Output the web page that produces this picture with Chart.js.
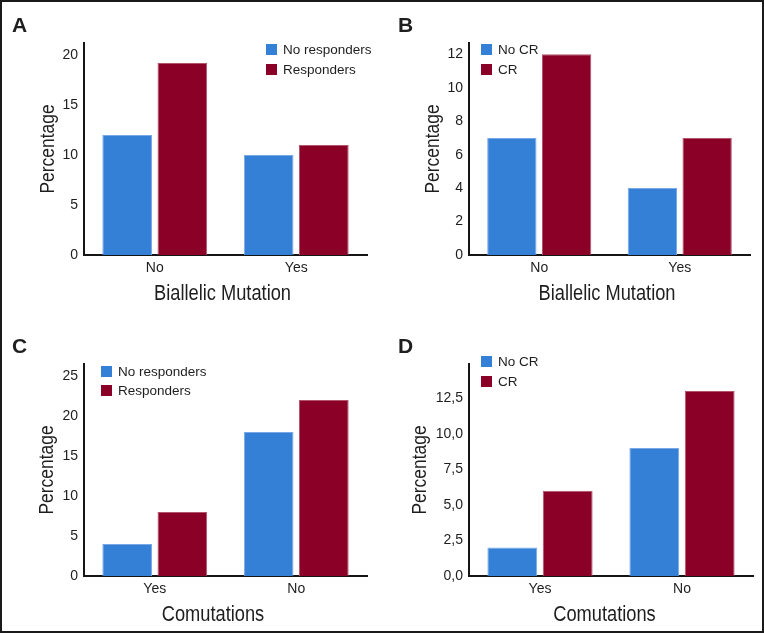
<!DOCTYPE html>
<html>
<head>
<meta charset="utf-8">
<script src="https://cdn.jsdelivr.net/npm/chart.js@4.4.1/dist/chart.umd.min.js"></script>
<style>
  html, body { margin: 0; padding: 0; background: #fff; }
  #page { position: relative; width: 764px; height: 633px; overflow: hidden; background: #fff; }
  #page canvas { position: absolute; }
  #frame { position: absolute; left: 0; top: 0; width: 764px; height: 633px; box-sizing: border-box;
           border: 2px solid #1a1a1a; pointer-events: none; }
</style>
</head>
<body>
<div id="page">
  <canvas id="chartA" width="382" height="316" style="left:0;top:0"></canvas>
  <canvas id="chartB" width="382" height="316" style="left:382px;top:0"></canvas>
  <canvas id="chartC" width="382" height="317" style="left:0;top:316px"></canvas>
  <canvas id="chartD" width="382" height="317" style="left:382px;top:316px"></canvas>
  <div id="frame"></div>
</div>
<script>
// categories
const mutationLabels = ['No', 'Yes'];
const comutationLabels = ['Yes', 'No'];

// panel A: biallelic mutation by response
const noRespondersA = [12, 10];
const respondersA = [19.2, 11];
// panel B: biallelic mutation by CR
const noCrB = [7, 4];
const crB = [12, 7];
// panel C: comutations by response
const noRespondersC = [4, 18];
const respondersC = [8, 22];
// panel D: comutations by CR
const noCrD = [2, 9];
const crD = [6, 13];

// y tick values
const ticksA = [0, 5, 10, 15, 20];
const ticksB = [0, 2, 4, 6, 8, 10, 12];
const ticksC = [0, 5, 10, 15, 20, 25];
const ticksD = [0, 2.5, 5, 7.5, 10, 12.5];

const BLUE = '#3580d7', BLUE_EDGE = '#78a8e6';
const RED = '#8a0026', RED_EDGE = '#b3546d';
const TEXT = '#1e1e1e';
const AXIS = '#151515';
const SANS = "'Liberation Sans', Arial, sans-serif";
const SQUEEZE = 0.83; // axis titles use a condensed face in the original

// panel letter, axis titles and the little boxed legend, drawn from the chart
const panelDecor = {
  id: 'panelDecor',
  afterDraw(chart, args, opts) {
    const ctx = chart.ctx;
    const area = chart.chartArea;
    ctx.save();
    ctx.fillStyle = TEXT;
    ctx.font = 'bold 21px ' + SANS;
    ctx.textBaseline = 'alphabetic';
    ctx.fillText(opts.letter, opts.letterX, opts.letterY);

    // axis titles
    ctx.textAlign = 'center';
    ctx.font = opts.xTitleSize + 'px ' + SANS;
    ctx.save();
    ctx.translate(opts.xTitleX, opts.xTitleY);
    ctx.scale(SQUEEZE, 1);
    ctx.fillText(opts.xTitle, 0, 0);
    ctx.restore();

    ctx.font = opts.yTitleSize + 'px ' + SANS;
    ctx.save();
    ctx.translate(opts.yTitleX, (area.top + area.bottom) / 2);
    ctx.rotate(-Math.PI / 2);
    ctx.scale(SQUEEZE, 1);
    ctx.fillText(opts.yTitle, 0, 0);
    ctx.restore();

    // legend
    ctx.textAlign = 'left';
    ctx.font = '13.5px ' + SANS;
    ctx.textBaseline = 'middle';
    chart.data.datasets.forEach((ds, i) => {
      const y = opts.legendY + i * opts.legendGap;
      ctx.fillStyle = ds.backgroundColor;
      ctx.fillRect(opts.legendX, y, 11, 11);
      ctx.fillStyle = TEXT;
      ctx.fillText(ds.label, opts.legendX + 17, y + 6);
    });
    ctx.restore();
  }
};

function makePanel(id, p) {
  const canvas = document.getElementById(id);
  const W = canvas.width, H = canvas.height;
  return new Chart(canvas, {
    type: 'bar',
    data: {
      labels: p.labels,
      datasets: [
        { label: p.names[0], data: p.series[0], backgroundColor: BLUE, borderColor: BLUE_EDGE, borderWidth: 1 },
        { label: p.names[1], data: p.series[1], backgroundColor: RED, borderColor: RED_EDGE, borderWidth: 1 }
      ]
    },
    options: {
      responsive: false,
      animation: false,
      datasets: { bar: { categoryPercentage: 0.78, barPercentage: 0.9 } },
      layout: { padding: { left: 0, top: p.area.top, right: W - p.area.right, bottom: 0 } },
      plugins: {
        legend: { display: false },
        tooltip: { enabled: false },
        panelDecor: Object.assign({ yTitle: 'Percentage', xTitleSize: 22, yTitleSize: 21 }, p.decor)
      },
      scales: {
        x: {
          grid: { display: false, drawTicks: false },
          border: { display: true, color: AXIS, width: 2 },
          ticks: { color: TEXT, font: { family: SANS, size: 14 }, padding: 5 },
          afterFit: s => { s.height = H - p.area.bottom; }
        },
        y: {
          min: 0,
          max: p.yMax,
          grid: { display: false, drawTicks: false },
          border: { display: true, color: AXIS, width: 2 },
          ticks: { color: TEXT, font: { family: SANS, size: 14 }, padding: 6, callback: p.fmt },
          afterBuildTicks: s => { s.ticks = p.ticks.map(v => ({ value: v })); },
          afterFit: s => { s.width = p.area.left; }
        }
      }
    },
    plugins: [panelDecor]
  });
}

const plain = v => String(v);
const comma = v => v.toFixed(1).replace('.', ',');

makePanel('chartA', {
  labels: mutationLabels,
  names: ['No responders', 'Responders'],
  series: [noRespondersA, respondersA],
  ticks: ticksA, yMax: 21.2, fmt: plain,
  area: { left: 84, right: 367, top: 43, bottom: 255 },
  decor: { letter: 'A', letterX: 12, letterY: 32, legendX: 266, legendY: 44, legendGap: 20,
           xTitle: 'Biallelic Mutation', xTitleX: 222.5, xTitleY: 300, yTitleX: 53.5 }
});

makePanel('chartB', {
  labels: mutationLabels,
  names: ['No CR', 'CR'],
  series: [noCrB, crB],
  ticks: ticksB, yMax: 12.68, fmt: plain,
  area: { left: 87, right: 368, top: 43, bottom: 255 },
  decor: { letter: 'B', letterX: 16, letterY: 32, legendX: 99, legendY: 44, legendGap: 20,
           xTitle: 'Biallelic Mutation', xTitleX: 225, xTitleY: 300, yTitleX: 57 }
});

makePanel('chartC', {
  labels: comutationLabels,
  names: ['No responders', 'Responders'],
  series: [noRespondersC, respondersC],
  ticks: ticksC, yMax: 26.5, fmt: plain,
  area: { left: 84, right: 367, top: 48, bottom: 260 },
  decor: { letter: 'C', letterX: 12, letterY: 37, legendX: 101, legendY: 50, legendGap: 19,
           xTitle: 'Comutations', xTitleX: 213, xTitleY: 305, yTitleX: 53 }
});

makePanel('chartD', {
  labels: comutationLabels,
  names: ['No CR', 'CR'],
  series: [noCrD, crD],
  ticks: ticksD, yMax: 14.9, fmt: comma,
  area: { left: 87, right: 371, top: 48, bottom: 260 },
  decor: { letter: 'D', letterX: 16, letterY: 37, legendX: 99, legendY: 40, legendGap: 20,
           xTitle: 'Comutations', xTitleX: 222.5, xTitleY: 305, yTitleX: 44 }
});
</script>
</body>
</html>
